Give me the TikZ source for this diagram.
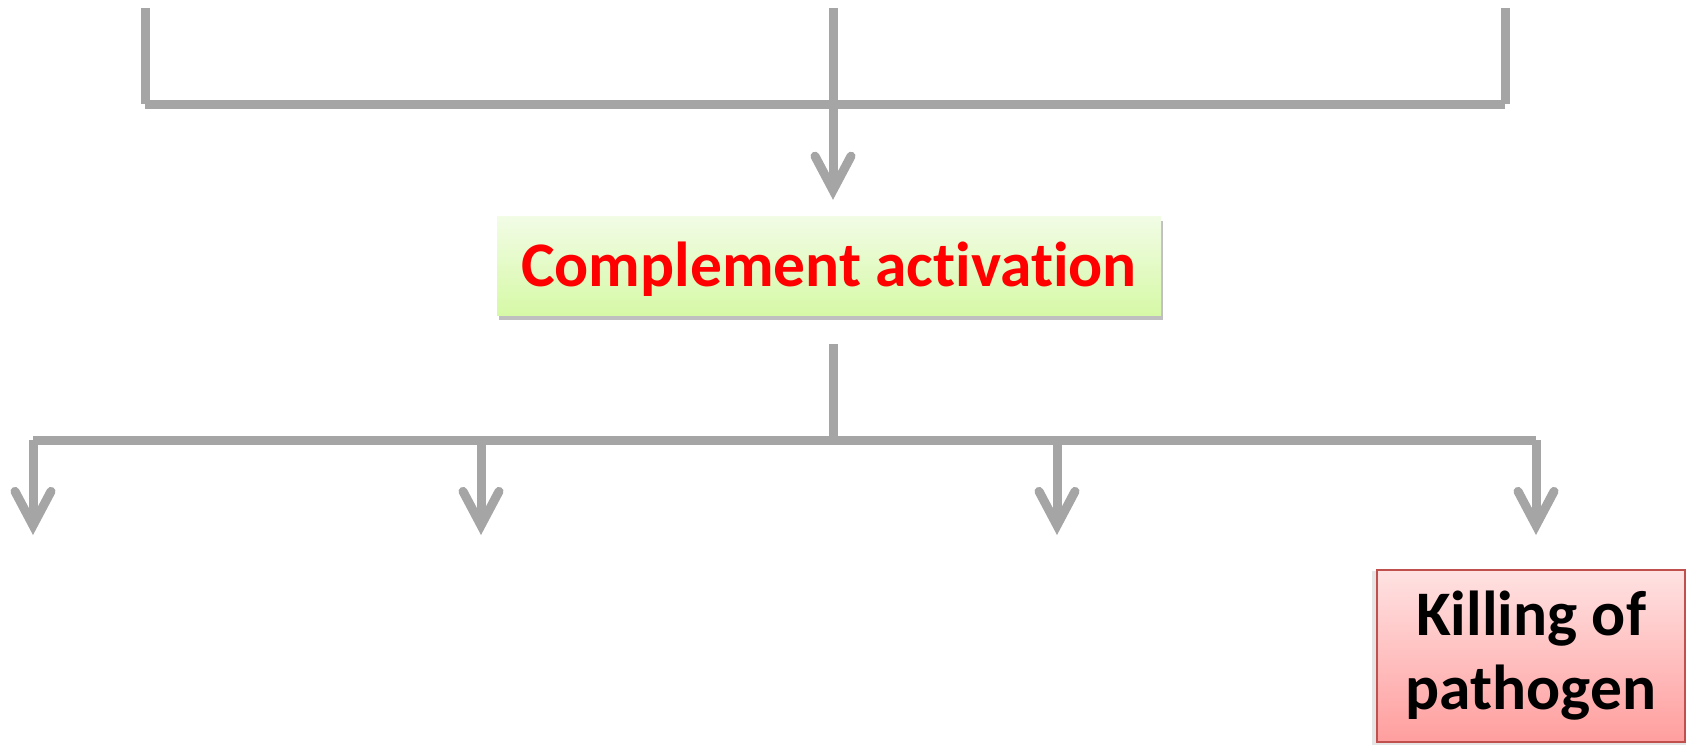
\documentclass[tikz,border=0pt]{standalone}
\usepackage{fontspec}
\setmainfont[Ligatures={NoCommon}]{Carlito}
\usetikzlibrary{arrows.meta}
\definecolor{linegray}{HTML}{A5A5A5}
\definecolor{actred}{HTML}{FF0000}
\definecolor{greentop}{HTML}{F2FCE6}
\definecolor{greenbot}{HTML}{D6F9A6}
\definecolor{pinktop}{HTML}{FFE2E2}
\definecolor{pinkbot}{HTML}{FF9E9E}
\definecolor{pinkedge}{HTML}{C0504D}
\tikzset{
  conn/.style={draw=linegray, line width=9pt},
  arr/.style={conn, -{Straight Barb[length=34pt, width=36pt, line cap=round, line join=miter]}},
  greenbox/.style={top color=greentop, bottom color=greenbot, draw=none,
    minimum width=664pt, minimum height=99pt, inner sep=0pt,
    text height=41pt, text depth=0pt,
    text=actred, font=\fontsize{63.5}{63}\selectfont\bfseries},
  redbox/.style={top color=pinktop, bottom color=pinkbot, draw=pinkedge, line width=2pt,
    minimum width=308pt, minimum height=172pt, inner sep=0pt, align=center,
    text=black, font=\fontsize{63.5}{74}\selectfont\bfseries}
}
\begin{document}
\begin{tikzpicture}[x=1pt, y=-1pt]
\useasboundingbox (0,0) rectangle (1694,745);
\fill[white] (0,0) rectangle (1694,745);

% shadow and box for the activation step
\fill[black!25] (499,221) rectangle (1163,320);
\node[greenbox] (act) at (829,265.5) {Complement activation};

% outcome box
\fill[black!10] (1372,571) rectangle (1686,745);
\node[redbox] (kill) at (1531,656) {Killing of\\pathogen};

% upper collecting bracket
\coordinate (t1) at (145,8);
\coordinate (t2) at (833,8);
\coordinate (t3) at (1505,8);
\coordinate (j1) at (145,104);
\coordinate (j3) at (1505,104);
\draw[conn] (t1) -- (j1);
\draw[conn] (t3) -- (j3);
\draw[conn] (j1) -- (j3);
\draw[arr, shorten >=16pt] (t2) -- (t2 |- act.north);

% lower distributing bracket
\coordinate (b1) at (33,440);
\coordinate (b2) at (481,440);
\coordinate (b3) at (1057,440);
\coordinate (b4) at (1536,440);
\draw[conn, shorten <=29pt] (t2 |- act.south) -- (t2 |- b1);
\draw[conn] (b1) -- (b4);
\coordinate (e1) at (33,535);
\coordinate (e2) at (481,535);
\coordinate (e3) at (1057,535);
\draw[arr] (b1) -- (e1);
\draw[arr] (b2) -- (e2);
\draw[arr] (b3) -- (e3);
\draw[arr, shorten >=34pt] (b4) -- (b4 |- kill.north);
\end{tikzpicture}
\end{document}
